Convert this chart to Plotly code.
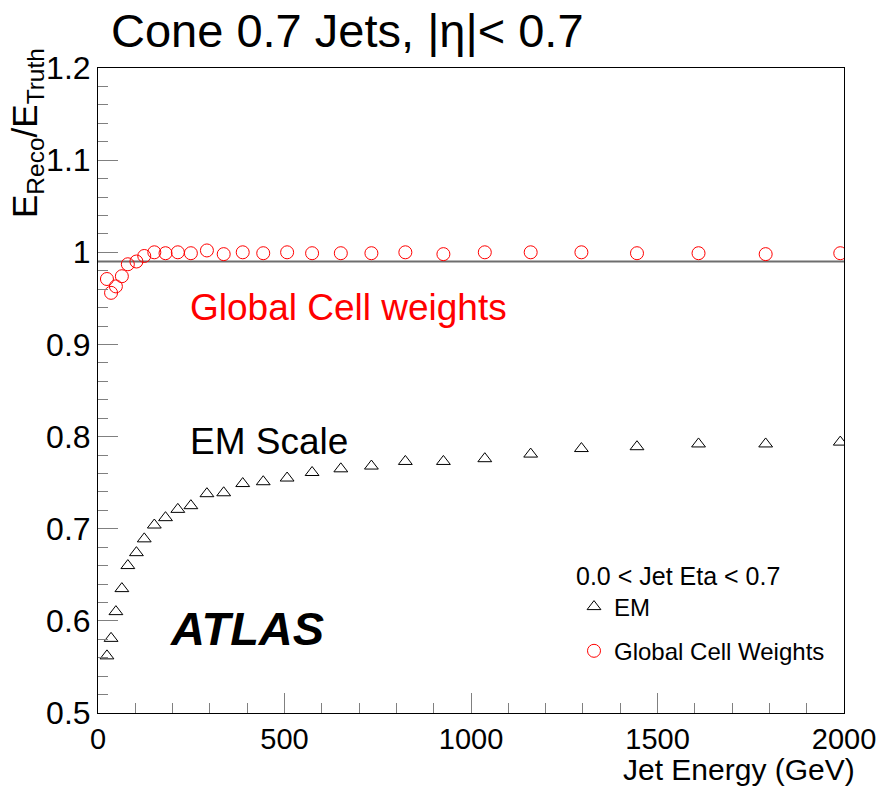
import plotly.graph_objects as go

# ---- data ----
jet_energy = [24, 35, 48, 64, 80, 103, 124, 151, 181, 214, 249, 292, 337, 388,
              443, 507, 574, 651, 733, 824, 926, 1037, 1160, 1296, 1445, 1610,
              1790, 1990]
em_scale = [0.562, 0.581, 0.610, 0.635, 0.660, 0.674, 0.689, 0.704, 0.712,
            0.721, 0.725, 0.738, 0.739, 0.749, 0.751, 0.755, 0.761, 0.765,
            0.768, 0.773, 0.773, 0.776, 0.781, 0.787, 0.789, 0.792, 0.792,
            0.794]
global_cell = [0.971, 0.956, 0.963, 0.974, 0.987, 0.990, 0.996, 1.000, 0.999,
               1.000, 0.999, 1.002, 0.998, 1.000, 0.999, 1.000, 0.999, 0.999,
               0.999, 1.000, 0.998, 1.000, 1.000, 1.000, 0.999, 0.999, 0.998,
               0.999]
ref_line_y = 0.99

x_tickvals = [0, 500, 1000, 1500, 2000]
x_ticktext = ["0", "500", "1000", "1500", "2000"]
y_tickvals = [0.5, 0.6, 0.7, 0.8, 0.9, 1.0, 1.1, 1.2]
y_ticktext = ["0.5", "0.6", "0.7", "0.8", "0.9", "1", "1.1", "1.2"]

FONT = "Liberation Sans, Arial, sans-serif"
W, H = 889, 786
L, R, T, B = 98, 45, 68, 73

fig = go.Figure()
fig.add_trace(go.Scatter(
    x=jet_energy, y=em_scale, mode="markers", name="EM",
    legendgroup="em",
    marker=dict(symbol="triangle-up-open", size=12, color="black",
                line=dict(width=1, color="black")),
))
fig.add_trace(go.Scatter(
    x=jet_energy, y=global_cell, mode="markers", name="Global Cell Weights",
    legendgroup="gcw",
    marker=dict(symbol="circle-open", size=13, color="red",
                line=dict(width=1, color="red")),
))

fig.add_shape(type="line", xref="x", yref="y", x0=0, x1=2000,
              y0=ref_line_y, y1=ref_line_y,
              line=dict(color="#6e6e6e", width=2), layer="below")

pw = W - L - R
ph = H - T - B

def px_x(p):
    return (p - L) / pw

def px_y(p):
    return (H - B - p) / ph

ann = []
ann.append(dict(text="Cone 0.7 Jets, |\u03b7|< 0.7", x=px_x(109), y=px_y(30),
                xref="paper", yref="paper", xanchor="left", yanchor="middle",
                showarrow=False, font=dict(family=FONT, size=47, color="black")))
ann.append(dict(text="E<sub>Reco</sub>/E<sub>Truth</sub>", textangle=-90,
                x=px_x(27), y=px_y(46), xref="paper", yref="paper",
                xanchor="center", yanchor="top", showarrow=False,
                font=dict(family=FONT, size=35, color="black")))
ann.append(dict(text="Jet Energy (GeV)", x=px_x(856), y=px_y(787),
                xref="paper", yref="paper", xanchor="right", yanchor="bottom",
                showarrow=False, borderpad=0,
                font=dict(family=FONT, size=30, color="black")))
ann.append(dict(text="Global Cell weights", x=px_x(188), y=px_y(307),
                xref="paper", yref="paper", xanchor="left", yanchor="middle",
                showarrow=False, font=dict(family=FONT, size=37, color="red")))
ann.append(dict(text="EM Scale", x=px_x(188), y=px_y(441),
                xref="paper", yref="paper", xanchor="left", yanchor="middle",
                showarrow=False, font=dict(family=FONT, size=37, color="black")))
ann.append(dict(text="<b><i>ATLAS</i></b>", x=px_x(168), y=px_y(628),
                xref="paper", yref="paper", xanchor="left", yanchor="middle",
                showarrow=False, font=dict(family=FONT, size=47, color="black")))

fig.update_layout(
    width=W, height=H,
    margin=dict(l=L, r=R, t=T, b=B, pad=0),
    paper_bgcolor="white", plot_bgcolor="white",
    font=dict(family=FONT, color="black"),
    annotations=ann,
    showlegend=True,
    legend=dict(
        x=px_x(574), y=px_y(552), xanchor="left", yanchor="top",
        xref="paper", yref="paper",
        bgcolor="rgba(0,0,0,0)", borderwidth=0,
        title=dict(text="0.0 < Jet Eta < 0.7",
                   font=dict(family=FONT, size=25, color="black")),
        font=dict(family=FONT, size=24, color="black"),
        tracegroupgap=10, itemwidth=30,
    ),
    xaxis=dict(
        range=[0, 2000], tickvals=x_tickvals, ticktext=x_ticktext,
        ticks="inside", ticklen=20, tickwidth=1, tickcolor="#808080",
        showline=True, linecolor="black", linewidth=1, mirror=True,
        showgrid=False, zeroline=False,
        tickfont=dict(family=FONT, size=29, color="black"),
        minor=dict(dtick=100, ticks="inside", ticklen=10, tickcolor="#808080",
                   showgrid=False),
    ),
    yaxis=dict(
        range=[0.5, 1.2], tickvals=y_tickvals, ticktext=y_ticktext,
        ticks="inside", ticklen=20, tickwidth=1, tickcolor="#808080",
        showline=True, linecolor="black", linewidth=1, mirror=True,
        showgrid=False, zeroline=False,
        tickfont=dict(family=FONT, size=32, color="black"),
        minor=dict(dtick=0.02, ticks="inside", ticklen=10, tickcolor="#808080",
                   showgrid=False),
    ),
)

fig.write_html("out.html")
